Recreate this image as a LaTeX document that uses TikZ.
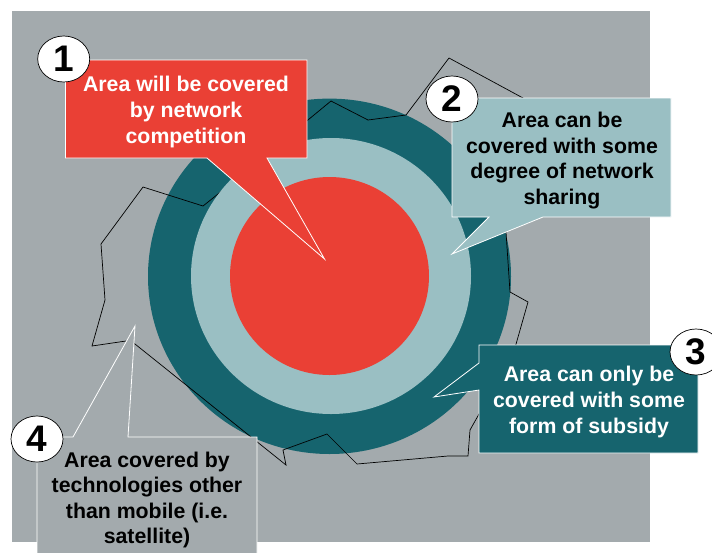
\documentclass[tikz,border=0pt]{standalone}
\usepackage{fontspec}
\setmainfont{Liberation Sans}
\definecolor{bgray}{HTML}{A3AAAD}
\definecolor{cred}{HTML}{EA4035}
\definecolor{clight}{HTML}{9ABFC3}
\definecolor{cdark}{HTML}{16646E}
\tikzset{
  callout/.style={draw=white,line width=0.8pt,line join=miter},
  boxtext/.style={font=\fontsize{21.3}{25.6}\selectfont\bfseries,align=center,inner sep=0pt},
  badge/.style={draw=black,fill=white,line width=0.7pt,ellipse,minimum width=52pt,minimum height=46pt,inner sep=0pt,font=\fontsize{37}{37}\selectfont\bfseries},
  border/.style={draw=black,line width=0.7pt,line join=miter}
}
\usetikzlibrary{shapes.geometric}
\begin{document}
\begin{tikzpicture}[x=1pt,y=-1pt]
\useasboundingbox (0,0) rectangle (712,552);
\clip (0,0) rectangle (712,552);
\fill[bgray] (12,11) rectangle (650,542);
\fill[cdark] (329.5,276.3) ellipse[x radius=181.5pt,y radius=177.7pt];
\draw[border] (135,344) -- (286,465) -- (283,450) -- (327,434) -- (357,464) -- (448,456) -- (468,456) -- (470,430) -- (513.5,353) -- (528,302) -- (510,292) -- (505,217) -- (523,98) -- (449,58) -- (406,115) -- (368,120) -- (331,101) -- (218,194) -- (203,206) -- (143,187) -- (101,244) -- (105,300) -- (92,346) -- (126,341) -- cycle;
\fill[clight] (331,276) ellipse[x radius=140pt,y radius=138pt];
\fill[cred] (329.5,276) ellipse[x radius=99.5pt,y radius=99pt];
\draw[callout,fill=cred] (65.5,60) -- (307,60) -- (307,158) -- (267,158) -- (324.5,259) -- (207,158) -- (65.5,158) -- cycle;
\draw[callout,fill=clight] (452,98) -- (671,98) -- (671,217) -- (543,217) -- (452,254) -- (489,217) -- (452,217) -- cycle;
\draw[callout,fill=cdark] (479,345) -- (698,345) -- (698,453) -- (479,453) -- (479,390) -- (434,397) -- (479,363) -- cycle;
\draw[callout,fill=bgray] (37,437) -- (73,437) -- (135,326) -- (128,437) -- (257,437) -- (257,560) -- (37,560) -- cycle;
\node[boxtext,text=white] (t1) at (186,112) {Area will be covered\\by network\\competition};
\node[boxtext,text=black] (t2) at (562,160.7) {Area can be\\covered with some\\degree of network\\sharing};
\node[boxtext,text=white] (t3) at (589,402) {Area can only be\\covered with some\\form of subsidy};
\node[boxtext,text=black] (t4) at (147,500) {Area covered by\\technologies other\\than mobile (i.e.\\satellite)};
\node[badge] (b1) at (63.7,59) {1};
\node[badge] (b2) at (452,99) {2};
\node[badge] (b3) at (696,352) {3};
\node[badge] (b4) at (37,439) {4};
\end{tikzpicture}
\end{document}
